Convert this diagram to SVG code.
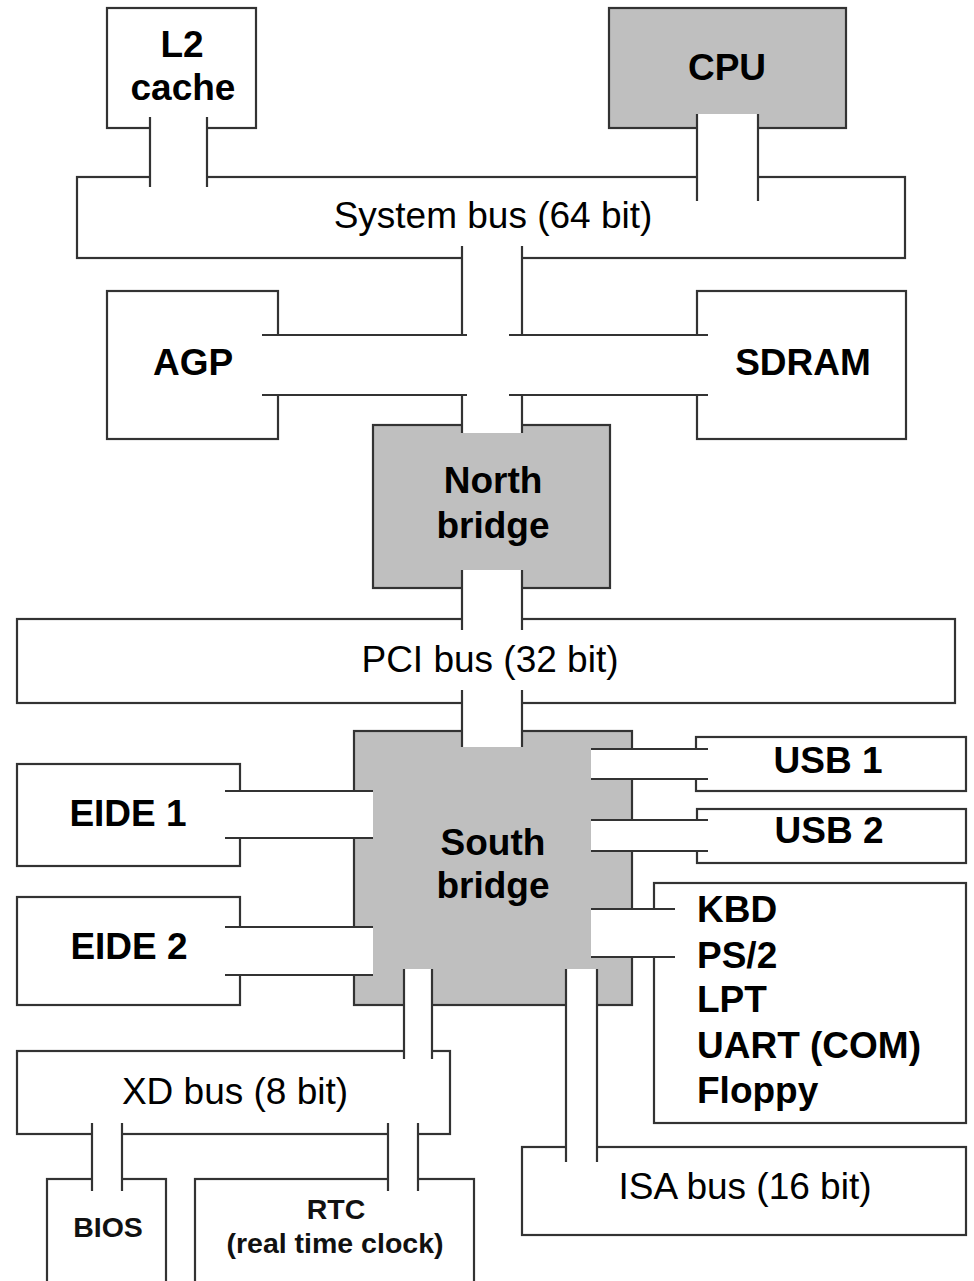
<svg xmlns="http://www.w3.org/2000/svg" width="974" height="1281" viewBox="0 0 974 1281">
<style>
.box{fill:#fff;stroke:#333;stroke-width:2.2}
.chip{fill:#bfbfbf;stroke:#333;stroke-width:2.2}
.cut{fill:#fff;stroke:none}
.ln{stroke:#333;stroke-width:2.2;fill:none}
.b{font-family:"Liberation Sans",Arial,sans-serif;font-weight:bold;font-size:37px;fill:#000}
.r{font-family:"Liberation Sans",Arial,sans-serif;font-size:37px;fill:#000}
.s{font-family:"Liberation Sans",Arial,sans-serif;font-weight:bold;font-size:28.5px;fill:#111}
.c{text-anchor:middle}
</style>
<rect width="974" height="1281" fill="#fff"/>
<g id="l2cache"><rect class="box" x="107" y="8" width="149" height="120"/><text class="b c" x="182" y="57">L2</text><text class="b c" x="183" y="100">cache</text></g>
<g id="cpu"><rect class="chip" x="609" y="8" width="237" height="120"/><text class="b c" x="727" y="80">CPU</text></g>
<g id="systembus"><rect class="box" x="77" y="177" width="828" height="81"/><text class="r c" x="493" y="228">System bus (64 bit)</text></g>
<g id="agp"><rect class="box" x="107" y="291" width="171" height="148"/><text class="b c" x="193" y="375">AGP</text></g>
<g id="sdram"><rect class="box" x="697" y="291" width="209" height="148"/><text class="b c" x="803" y="375">SDRAM</text></g>
<g id="northbridge"><rect class="chip" x="373" y="425" width="237" height="163"/><text class="b c" x="493" y="493">North</text><text class="b c" x="493" y="538">bridge</text></g>
<g id="pcibus"><rect class="box" x="17" y="619" width="938" height="84"/><text class="r c" x="490" y="672">PCI bus (32 bit)</text></g>
<g id="southbridge"><rect class="chip" x="354" y="731" width="278" height="274"/><text class="b c" x="493" y="855">South</text><text class="b c" x="493" y="898">bridge</text></g>
<g id="eide1"><rect class="box" x="17" y="764" width="223" height="102"/><text class="b c" x="128" y="826">EIDE 1</text></g>
<g id="eide2"><rect class="box" x="17" y="897" width="223" height="108"/><text class="b c" x="129" y="959">EIDE 2</text></g>
<g id="usb1"><rect class="box" x="696" y="737" width="270" height="54"/><text class="b c" x="828" y="773">USB 1</text></g>
<g id="usb2"><rect class="box" x="697" y="809" width="269" height="54"/><text class="b c" x="829" y="843">USB 2</text></g>
<g id="legacy"><rect class="box" x="654" y="883" width="312" height="240"/>
<text class="b" x="697" y="922">KBD</text><text class="b" x="697" y="968">PS/2</text><text class="b" x="697" y="1012">LPT</text><text class="b" x="697" y="1058">UART (COM)</text><text class="b" x="697" y="1103">Floppy</text></g>
<g id="isabus"><rect class="box" x="522" y="1147" width="444" height="88"/><text class="r c" x="745" y="1199">ISA bus (16 bit)</text></g>
<g id="xdbus"><rect class="box" x="17" y="1051" width="433" height="83"/><text class="r c" x="235" y="1104">XD bus (8 bit)</text></g>
<g id="bios"><rect class="box" x="47" y="1179" width="119" height="130"/><text class="s c" x="108" y="1237">BIOS</text></g>
<g id="rtc"><rect class="box" x="195" y="1179" width="279" height="130"/><text class="s c" x="336" y="1219">RTC</text><text class="s c" x="335" y="1253">(real time clock)</text></g>
<g id="connectors">
<!-- white cut-outs -->
<rect class="cut" x="151" y="125" width="55" height="56"/>
<rect class="cut" x="698" y="114" width="59" height="67"/>
<rect class="cut" x="463" y="255" width="58" height="178"/>
<rect class="cut" x="270" y="336" width="436" height="58"/>
<rect class="cut" x="463" y="570" width="58" height="55"/>
<rect class="cut" x="463" y="698" width="58" height="49"/>
<rect class="cut" x="232" y="792" width="141" height="45"/>
<rect class="cut" x="232" y="928" width="141" height="46"/>
<rect class="cut" x="591" y="750" width="113" height="28"/>
<rect class="cut" x="591" y="821" width="113" height="29"/>
<rect class="cut" x="591" y="910" width="78" height="46"/>
<rect class="cut" x="405" y="969" width="26" height="86"/>
<rect class="cut" x="567" y="969" width="29" height="183"/>
<rect class="cut" x="93" y="1130" width="28" height="54"/>
<rect class="cut" x="389" y="1130" width="28" height="54"/>
<!-- channel lines -->
<path class="ln" d="M150 117V187M207 117V187"/>
<path class="ln" d="M697 114V201M758 114V201"/>
<path class="ln" d="M462 246V335M522 246V335M462 395V433M522 395V433"/>
<path class="ln" d="M262 335H467M262 395H467M509 335H708M509 395H708"/>
<path class="ln" d="M462 570V630M522 570V630"/>
<path class="ln" d="M462 690V747M522 690V747"/>
<path class="ln" d="M225 791H373M225 838H373"/>
<path class="ln" d="M225 927H373M225 975H373"/>
<path class="ln" d="M591 749H708M591 779H708"/>
<path class="ln" d="M591 820H708M591 851H708"/>
<path class="ln" d="M591 909H675M591 957H675"/>
<path class="ln" d="M404 969V1059M432 969V1059"/>
<path class="ln" d="M566 969V1162M597 969V1162"/>
<path class="ln" d="M92 1123V1191M122 1123V1191"/>
<path class="ln" d="M388 1123V1191M418 1123V1191"/>
</g>
</svg>
